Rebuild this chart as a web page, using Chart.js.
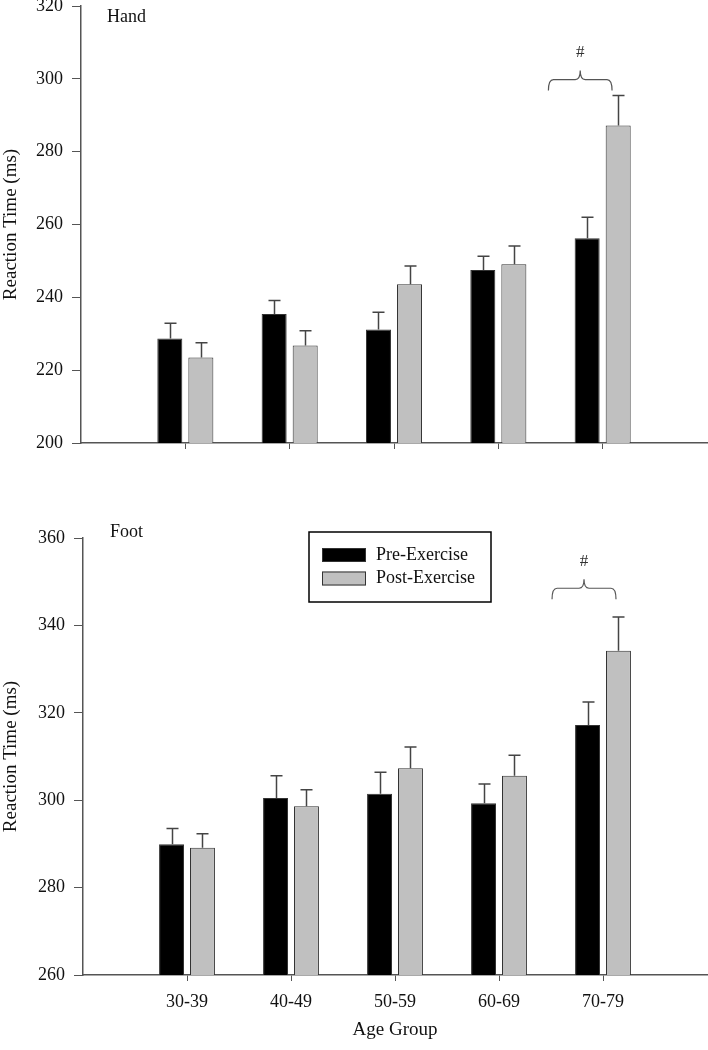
<!DOCTYPE html>
<html>
<head>
<meta charset="utf-8">
<script src="https://cdn.jsdelivr.net/npm/chart.js@4.4.0/dist/chart.umd.min.js"></script>
<style>
html,body{margin:0;padding:0;background:#fff;}
#wrap{position:relative;width:708px;height:1050px;overflow:hidden;}
canvas{position:absolute;left:0;display:block;}
#c1{top:0;}
#c2{top:480px;}
</style>
</head>
<body>
<div id="wrap">
<canvas id="c1" width="708" height="480"></canvas>
<canvas id="c2" width="708" height="570"></canvas>
</div>
<script>
// ---- data ----
const categories = ['30-39', '40-49', '50-59', '60-69', '70-79'];
const seriesLabels = ['Pre-Exercise', 'Post-Exercise'];

const handPre = [228.7, 235.4, 231.2, 247.5, 256.2];
const handPreErr = [4.2, 3.7, 4.7, 3.8, 5.8];
const handPost = [223.5, 226.8, 243.6, 249.1, 287.2];
const handPostErr = [4.0, 4.0, 5.0, 5.0, 8.2];

const footPre = [289.9, 300.5, 301.5, 299.3, 317.2];
const footPreErr = [3.6, 5.1, 4.9, 4.4, 5.3];
const footPost = [289.1, 298.6, 307.3, 305.6, 334.2];
const footPostErr = [3.2, 3.8, 4.9, 4.7, 7.7];

const handTicks = [200, 220, 240, 260, 280, 300, 320];
const footTicks = [260, 280, 300, 320, 340, 360];

// ---- styles ----
const FONT = "'Liberation Serif', 'Times New Roman', Times, serif";
const TEXT = '#111';
const AXIS = '#555';
const PRE_FILL = '#000000';
const POST_FILL = '#c0c0c0';
const BAR_BORDER = '#333';

const errorBars = {
  id: 'errorBars',
  afterDatasetsDraw(chart) {
    const ctx = chart.ctx;
    const ys = chart.scales.y;
    ctx.save();
    ctx.strokeStyle = '#444';
    ctx.lineWidth = 1.5;
    chart.data.datasets.forEach((ds, i) => {
      const meta = chart.getDatasetMeta(i);
      meta.data.forEach((bar, j) => {
        const v = ds.data[j].y;
        const e = ds.errors[j];
        const yTop = ys.getPixelForValue(v + e);
        const x = Math.round(bar.x) + 0.5;
        ctx.beginPath();
        ctx.moveTo(x, bar.y);
        ctx.lineTo(x, yTop);
        ctx.moveTo(x - 6, yTop);
        ctx.lineTo(x + 6, yTop);
        ctx.stroke();
      });
    });
    ctx.restore();
  }
};

const decor = {
  id: 'decor',
  afterDraw(chart, args, opts) {
    const ctx = chart.ctx;
    const xs = chart.scales.x, ys = chart.scales.y;
    const ca = chart.chartArea;
    ctx.save();
    // panel label
    ctx.fillStyle = TEXT;
    ctx.font = '18px ' + FONT;
    ctx.textAlign = 'left';
    ctx.textBaseline = 'middle';
    ctx.fillText(opts.label, ca.left + opts.labelDx, ca.top + opts.labelDy);

    // brace with "#"
    const b = opts.brace;
    const x1 = xs.getPixelForValue(b.x1);
    const x2 = xs.getPixelForValue(b.x2);
    const xm = (x1 + x2) / 2;
    const yl = ys.getPixelForValue(b.y);
    ctx.strokeStyle = '#555';
    ctx.lineWidth = 1.2;
    ctx.beginPath();
    ctx.moveTo(x1, yl + 11);
    ctx.quadraticCurveTo(x1, yl, x1 + 5, yl);
    ctx.lineTo(xm - 5, yl);
    ctx.quadraticCurveTo(xm, yl, xm, yl - 9);
    ctx.moveTo(xm, yl - 9);
    ctx.quadraticCurveTo(xm, yl, xm + 5, yl);
    ctx.lineTo(x2 - 5, yl);
    ctx.quadraticCurveTo(x2, yl, x2, yl + 11);
    ctx.stroke();
    ctx.font = '17px ' + FONT;
    ctx.textAlign = 'center';
    ctx.fillStyle = '#333';
    ctx.fillText('#', xm, yl - 27);

    // legend
    if (opts.legend) {
      const L = opts.legend;
      const bx = ca.left + L.dx, by = ca.top + L.dy;
      ctx.strokeStyle = '#000';
      ctx.lineWidth = 1.5;
      ctx.strokeRect(bx, by, L.w, L.h);
      ctx.font = '18px ' + FONT;
      ctx.textAlign = 'left';
      ctx.textBaseline = 'middle';
      chart.data.datasets.forEach((ds, i) => {
        const sy = by + 16 + i * 23.5;
        ctx.fillStyle = ds.backgroundColor;
        ctx.fillRect(bx + 13, sy, 44, 14);
        ctx.strokeStyle = BAR_BORDER;
        ctx.lineWidth = 1;
        ctx.strokeRect(bx + 13.5, sy + 0.5, 43, 13);
        ctx.fillStyle = TEXT;
        ctx.fillText(ds.label, bx + 67, sy + 7);
      });
    }
    ctx.restore();
  }
};

function makeChart(id, o) {
  const datasets = [
    { label: seriesLabels[0], data: o.pre.map((v, i) => ({ x: i + 1, y: v })), errors: o.preErr,
      backgroundColor: PRE_FILL, borderColor: BAR_BORDER, borderWidth: 1 },
    { label: seriesLabels[1], data: o.post.map((v, i) => ({ x: i + 1, y: v })), errors: o.postErr,
      backgroundColor: POST_FILL, borderColor: BAR_BORDER, borderWidth: 1 }
  ];
  return new Chart(document.getElementById(id), {
    type: 'bar',
    data: { datasets },
    plugins: [errorBars, decor],
    options: {
      responsive: false,
      animation: false,
      events: [],
      devicePixelRatio: 1,
      categoryPercentage: 0.595,
      barPercentage: 0.806,
      layout: { padding: { top: o.padTop, right: 1, bottom: o.padBottom, left: 0 } },
      plugins: {
        legend: { display: false },
        tooltip: { enabled: false },
        decor: o.decor
      },
      scales: {
        x: {
          type: 'linear',
          min: 0, max: 6,
          offset: false,
          afterBuildTicks: s => { s.ticks = categories.map((c, i) => ({ value: i + 1 })); },
          afterFit: s => { s.height = o.xHeight; s.paddingLeft = 0; s.paddingRight = 0; },
          grid: { offset: false, drawOnChartArea: false, drawTicks: true, tickLength: 6, tickColor: AXIS, tickWidth: 1 },
          border: { display: true, color: AXIS, width: 1.5 },
          ticks: {
            display: o.showX,
            padding: 10,
            color: TEXT,
            font: { family: FONT, size: 18 },
            maxRotation: 0,
            autoSkip: false,
            callback: v => categories[v - 1] || ''
          },
          title: {
            display: o.showX,
            text: 'Age Group',
            color: TEXT,
            font: { family: FONT, size: 19 },
            padding: 0
          }
        },
        y: {
          min: o.ticks[0], max: o.ticks[o.ticks.length - 1],
          beginAtZero: false,
          afterBuildTicks: s => { s.ticks = o.ticks.map(v => ({ value: v })); },
          afterFit: s => { s.width = o.yWidth; s.paddingTop = 0; s.paddingBottom = 0; },
          grid: { drawOnChartArea: false, drawTicks: true, tickLength: 9, tickColor: AXIS, tickWidth: 1 },
          border: { display: true, color: AXIS, width: 1.5 },
          ticks: {
            padding: 9,
            color: TEXT,
            font: { family: FONT, size: 18 }
          },
          title: {
            display: true,
            text: 'Reaction Time (ms)',
            color: TEXT,
            font: { family: FONT, size: 19 },
            padding: 0
          }
        }
      }
    }
  });
}

makeChart('c1', {
  pre: handPre, preErr: handPreErr, post: handPost, postErr: handPostErr,
  ticks: handTicks, padTop: 6, padBottom: 0, xHeight: 37, yWidth: 81, showX: false,
  decor: { label: 'Hand', labelDx: 26, labelDy: 11, brace: { x1: 4.48, x2: 5.09, y: 299.8 } }
});

makeChart('c2', {
  pre: footPre, preErr: footPreErr, post: footPost, postErr: footPostErr,
  ticks: footTicks, padTop: 58, padBottom: 9, xHeight: 66, yWidth: 83, showX: true,
  decor: { label: 'Foot', labelDx: 27, labelDy: -6, brace: { x1: 4.51, x2: 5.125, y: 348.5 },
           legend: { dx: 226, dy: -6, w: 182, h: 70 } }
});
</script>
</body>
</html>
